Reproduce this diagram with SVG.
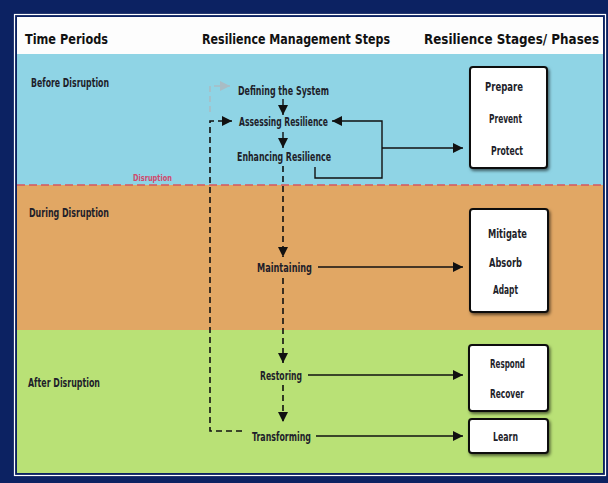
<svg xmlns="http://www.w3.org/2000/svg" width="608" height="483" viewBox="0 0 608 483">
  <style>
    .hdr { font-family: "Liberation Sans Narrow", "DejaVu Sans Condensed", "Liberation Sans", sans-serif; font-weight: bold; font-size: 14px; fill: #111; }
    .lbl { font-family: "Liberation Sans Narrow", "DejaVu Sans Condensed", "Liberation Sans", sans-serif; font-weight: bold; font-size: 13px; fill: #1e1e2a; }
    .box { fill: #ffffff; stroke: #111; stroke-width: 2; filter: url(#shadow); }
    .solid { fill: none; stroke: #111; stroke-width: 1.4; }
    .dash { fill: none; stroke: #111; stroke-width: 1.6; stroke-dasharray: 6 4; }
    .dash-light { fill: none; stroke: #a9bcc4; stroke-width: 1.6; stroke-dasharray: 6 4; }
  </style>
  <defs>
    <marker id="arrow" viewBox="0 0 10 10" refX="10" refY="5" markerWidth="11" markerHeight="10" markerUnits="userSpaceOnUse" orient="auto">
      <path d="M0,0 L10,5 L0,10 Z" fill="#111"/>
    </marker>
    <marker id="arrow-light" viewBox="0 0 10 10" refX="10" refY="5" markerWidth="11" markerHeight="10" markerUnits="userSpaceOnUse" orient="auto">
      <path d="M0,0 L10,5 L0,10 Z" fill="#a9bcc4"/>
    </marker>
    <filter id="shadow" x="-20%" y="-20%" width="140%" height="140%">
      <feDropShadow dx="1.5" dy="2" stdDeviation="1.8" flood-color="#000" flood-opacity="0.55"/>
    </filter>
  </defs>

  <!-- frame -->
  <rect x="0" y="0" width="608" height="483" fill="#0c2262"/>
  <rect x="14.5" y="14.5" width="591" height="461" fill="none" stroke="#ffffff" stroke-width="1.2"/>

  <!-- period bands -->
  <g id="bands">
    <rect x="17" y="17" width="586" height="37" fill="#fdfdfd"/>
    <rect x="17" y="54" width="586" height="131" fill="#8fd4e5"/>
    <rect x="17" y="185" width="586" height="145" fill="#e1a764"/>
    <rect x="17" y="330" width="586" height="143" fill="#b9e176"/>
    <line x1="17" y1="185" x2="603" y2="185" stroke="#d6575e" stroke-width="1.4" stroke-dasharray="8 4"/>
    <text x="133" y="181" font-family="Liberation Sans Narrow, DejaVu Sans Condensed, Liberation Sans, sans-serif" font-weight="bold" font-size="9.5" fill="#d2486c" textLength="39" lengthAdjust="spacingAndGlyphs">Disruption</text>
  </g>

  <!-- column headers -->
  <g id="headers">
    <text class="hdr" x="25" y="44" textLength="83" lengthAdjust="spacingAndGlyphs">Time Periods</text>
    <text class="hdr" x="202" y="44" textLength="188" lengthAdjust="spacingAndGlyphs">Resilience Management Steps</text>
    <text class="hdr" x="424" y="44" textLength="175" lengthAdjust="spacingAndGlyphs">Resilience Stages/ Phases</text>
  </g>

  <!-- time periods -->
  <g id="period-before"><text class="lbl" x="31" y="87" textLength="78" lengthAdjust="spacingAndGlyphs">Before Disruption</text></g>
  <g id="period-during"><text class="lbl" x="29" y="217" textLength="80" lengthAdjust="spacingAndGlyphs">During Disruption</text></g>
  <g id="period-after"><text class="lbl" x="28" y="387" textLength="72" lengthAdjust="spacingAndGlyphs">After Disruption</text></g>

  <!-- management steps -->
  <g id="step-defining"><text class="lbl" x="238" y="94.5" textLength="91" lengthAdjust="spacingAndGlyphs">Defining the System</text></g>
  <g id="step-assessing"><text class="lbl" x="239" y="125.5" textLength="89" lengthAdjust="spacingAndGlyphs">Assessing Resilience</text></g>
  <g id="step-enhancing"><text class="lbl" x="237" y="160.5" textLength="94" lengthAdjust="spacingAndGlyphs">Enhancing Resilience</text></g>
  <g id="step-maintaining"><text class="lbl" x="257" y="271.5" textLength="55" lengthAdjust="spacingAndGlyphs">Maintaining</text></g>
  <g id="step-restoring"><text class="lbl" x="260" y="379.5" textLength="42" lengthAdjust="spacingAndGlyphs">Restoring</text></g>
  <g id="step-transforming"><text class="lbl" x="252" y="440.5" textLength="59" lengthAdjust="spacingAndGlyphs">Transforming</text></g>

  <!-- resilience stages -->
  <g id="stage-prepare">
    <rect class="box" x="470" y="67" width="77" height="101" rx="3"/>
    <text class="lbl" x="485" y="90.5" textLength="38" lengthAdjust="spacingAndGlyphs">Prepare</text>
    <text class="lbl" x="489" y="122.5" textLength="33" lengthAdjust="spacingAndGlyphs">Prevent</text>
    <text class="lbl" x="491" y="154.5" textLength="32" lengthAdjust="spacingAndGlyphs">Protect</text>
  </g>
  <g id="stage-mitigate">
    <rect class="box" x="470" y="209" width="78" height="103" rx="3"/>
    <text class="lbl" x="488" y="237.5" textLength="39" lengthAdjust="spacingAndGlyphs">Mitigate</text>
    <text class="lbl" x="489" y="266.5" textLength="33" lengthAdjust="spacingAndGlyphs">Absorb</text>
    <text class="lbl" x="493" y="293.5" textLength="25" lengthAdjust="spacingAndGlyphs">Adapt</text>
  </g>
  <g id="stage-respond">
    <rect class="box" x="469" y="345" width="79" height="66" rx="3"/>
    <text class="lbl" x="490" y="367.5" textLength="35" lengthAdjust="spacingAndGlyphs">Respond</text>
    <text class="lbl" x="490" y="397.5" textLength="34" lengthAdjust="spacingAndGlyphs">Recover</text>
  </g>
  <g id="stage-learn">
    <rect class="box" x="469" y="419" width="79" height="34" rx="3"/>
    <text class="lbl" x="493" y="440.5" textLength="25" lengthAdjust="spacingAndGlyphs">Learn</text>
  </g>

  <!-- connectors -->
  <g id="connectors">
    <!-- step sequence -->
    <line class="solid" x1="283" y1="99" x2="283" y2="115" marker-end="url(#arrow)"/>
    <line class="solid" x1="283" y1="132" x2="283" y2="148" marker-end="url(#arrow)"/>
    <line class="dash" x1="283" y1="166" x2="283" y2="257" marker-end="url(#arrow)"/>
    <line class="dash" x1="283" y1="278" x2="283" y2="363" marker-end="url(#arrow)"/>
    <line class="dash" x1="283" y1="385" x2="283" y2="422" marker-end="url(#arrow)"/>

    <!-- feedback loop from transforming -->
    <path class="dash" d="M242,431 H210 V121 H232" marker-end="url(#arrow)"/>
    <path class="dash-light" d="M210,112 V86 H230" marker-end="url(#arrow-light)"/>

    <!-- enhancing back to assessing and out to first stage -->
    <path class="solid" d="M315,167 V178 H382 V121 H332" marker-end="url(#arrow)"/>
    <line class="solid" x1="382" y1="148" x2="463" y2="148" marker-end="url(#arrow)"/>

    <!-- steps to stages -->
    <line class="solid" x1="318" y1="267" x2="463" y2="267" marker-end="url(#arrow)"/>
    <line class="solid" x1="308" y1="375" x2="463" y2="375" marker-end="url(#arrow)"/>
    <line class="solid" x1="316" y1="436" x2="463" y2="436" marker-end="url(#arrow)"/>
  </g>
</svg>
